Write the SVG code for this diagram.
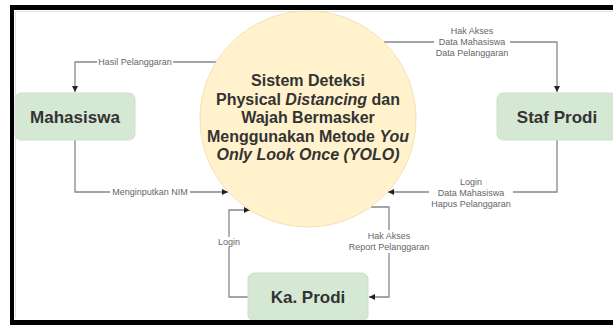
<svg xmlns="http://www.w3.org/2000/svg" width="613" height="325" viewBox="0 0 613 325">
<style>
.box{fill:#d5e8d4;stroke:#cfe0cd;stroke-width:1}
.ntext{font-family:"Liberation Sans",Arial,sans-serif;font-weight:bold;font-size:17px;fill:#333;text-anchor:middle;dominant-baseline:central}
.ctext{font-family:"Liberation Sans",Arial,sans-serif;font-weight:bold;font-size:16px;fill:#333;text-anchor:middle}
.edge{fill:none;stroke:#888;stroke-width:1.3}
.lbg{fill:#fff}
.lbl{font-family:"Liberation Sans",Arial,sans-serif;font-size:9px;fill:#666;text-anchor:middle;dominant-baseline:central}
.frame{fill:#000}
</style>
<defs>
<marker id="arr" markerUnits="userSpaceOnUse" markerWidth="8" markerHeight="8" refX="6" refY="3" orient="auto">
<path d="M0,0 L6,3 L0,6 Z" fill="#222"/>
</marker>
</defs>
<rect x="0" y="0" width="613" height="325" fill="#fff"/>
<path d="M15.5,318.5 V11.5 H613" fill="none" stroke="#e2e2e2" stroke-width="1"/>

<g id="connectors">
<path class="edge" d="M216,62 H75 V92" marker-end="url(#arr)"/>
<path class="edge" d="M75,140 V192 H228" marker-end="url(#arr)"/>
<path class="edge" d="M384,42 H557 V92" marker-end="url(#arr)"/>
<path class="edge" d="M557,140 V192 H388" marker-end="url(#arr)"/>
<path class="edge" d="M248,297 H229 V210 H250" marker-end="url(#arr)"/>
<path class="edge" d="M371,207 H389 V297 H369" marker-end="url(#arr)"/>
<rect class="lbg" x="97" y="57" width="76" height="10"/>
<rect class="lbg" x="110" y="187" width="80" height="10"/>
<rect class="lbg" x="434" y="26" width="76" height="32"/>
<rect class="lbg" x="429" y="176" width="84" height="33"/>
<rect class="lbg" x="217" y="237" width="24" height="10"/>
<rect class="lbg" x="348" y="230" width="82" height="23"/>
<text class="lbl" x="135" y="62">Hasil Pelanggaran</text>
<text class="lbl" x="150" y="192">Menginputkan NIM</text>
<text class="lbl" x="472" y="31">Hak Akses</text>
<text class="lbl" x="472" y="42">Data Mahasiswa</text>
<text class="lbl" x="472" y="53">Data Pelanggaran</text>
<text class="lbl" x="471" y="181.5">Login</text>
<text class="lbl" x="471" y="192.5">Data Mahasiswa</text>
<text class="lbl" x="471" y="203.5">Hapus Pelanggaran</text>
<text class="lbl" x="229" y="242">Login</text>
<text class="lbl" x="389" y="236">Hak Akses</text>
<text class="lbl" x="389" y="247">Report Pelanggaran</text>
</g>

<g id="sistem">
<circle cx="308" cy="119" r="108" fill="#fff2cc" stroke="#f3e2b3" stroke-width="1"/>
<text class="ctext" x="308" y="86">Sistem Deteksi</text>
<text class="ctext" x="308" y="104.5">Physical <tspan font-style="italic">Distancing</tspan> dan</text>
<text class="ctext" x="308" y="123">Wajah Bermasker</text>
<text class="ctext" x="308" y="141.5">Menggunakan Metode <tspan font-style="italic">You</tspan></text>
<text class="ctext" x="308" y="160" font-style="italic">Only Look Once (YOLO)</text>
</g>

<g id="mahasiswa">
<rect class="box" x="15" y="93" width="120" height="47" rx="6"/>
<text class="ntext" x="75" y="117">Mahasiswa</text>
</g>

<g id="staf-prodi">
<rect class="box" x="497" y="93" width="120" height="47" rx="6"/>
<text class="ntext" x="557" y="117">Staf Prodi</text>
</g>

<g id="ka-prodi">
<rect class="box" x="248" y="273" width="120" height="48" rx="6"/>
<text class="ntext" x="308" y="297">Ka. Prodi</text>
</g>

<rect class="frame" x="10" y="5" width="603" height="5"/>
<rect class="frame" x="10" y="5" width="4" height="320"/>
<rect class="frame" x="10" y="320" width="603" height="5"/>
</svg>
